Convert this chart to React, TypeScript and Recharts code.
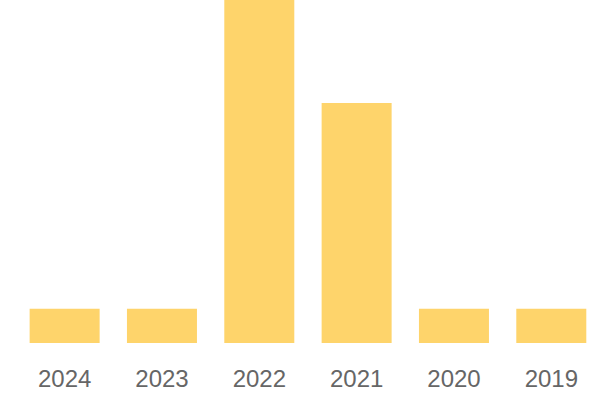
import { BarChart, Bar, XAxis, YAxis } from "recharts";

const years = ["2024", "2023", "2022", "2021", "2020", "2019"];
const counts = [1, 1, 10, 7, 1, 1];

const data = years.map((year, i) => ({ year, count: counts[i] }));

export default function App() {
  return (
    <div style={{ position: "absolute", left: 0, top: 0 }}>
      <BarChart
        width={600}
        height={400}
        data={data}
        margin={{ top: 0, right: 0, bottom: 0, left: 16 }}
        barCategoryGap="14%"
      >
        <XAxis
          dataKey="year"
          axisLine={false}
          tickLine={false}
          tickSize={0}
          tickMargin={27}
          height={57}
          interval={0}
          tick={{ fill: "#666", fontSize: 24, fontFamily: "Liberation Sans" }}
        />
        <YAxis hide domain={[0, 10]} />
        <Bar dataKey="count" fill="#FED46B" isAnimationActive={false} />
      </BarChart>
    </div>
  );
}
